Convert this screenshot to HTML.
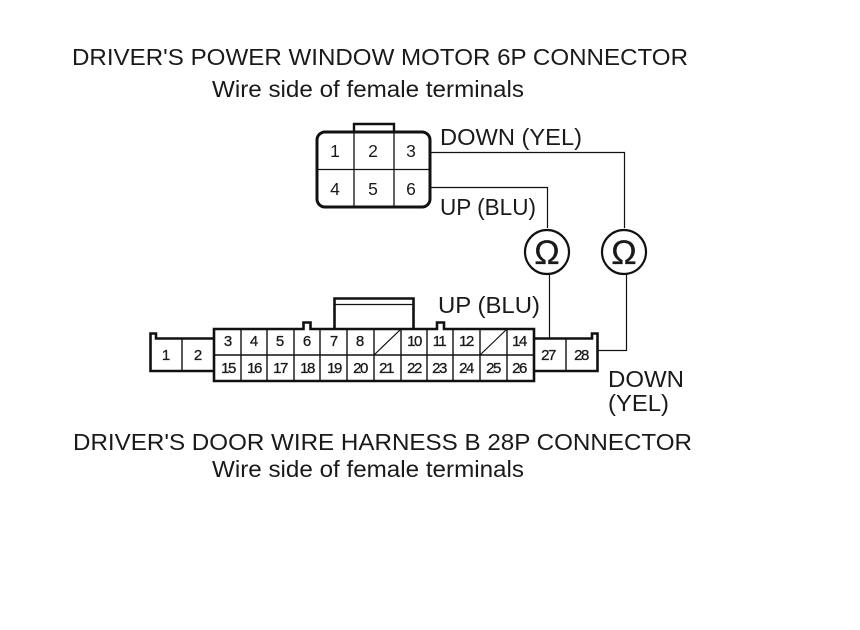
<!DOCTYPE html>
<html><head><meta charset="utf-8"><style>
html,body{margin:0;padding:0;background:#fff}
svg{display:block}
text{font-family:"Liberation Sans",sans-serif;fill:#1a1a1a}
.h{font-size:23.500px}
.n{font-size:17.500px;text-anchor:middle}
.s{font-size:15px;text-anchor:middle;stroke:#1a1a1a;stroke-width:.3px}
.d{font-size:15px;text-anchor:middle;stroke:#1a1a1a;stroke-width:.3px;letter-spacing:-1.500px}
</style></head><body>
<svg width="860" height="630" viewBox="0 0 860 630" xmlns="http://www.w3.org/2000/svg">
<rect width="860" height="630" fill="#fff"/>
<g fill="none" stroke="#111">
<!-- 6P -->
<path d="M354 132V124H394V132" stroke-width="2.400"/>
<rect x="317" y="132" width="113" height="75" rx="8" stroke-width="3"/>
<path d="M354 132V207M394 132V207M317 169.500H430" stroke-width="1.300"/>
<!-- wires -->
<path d="M431 152.500H624.500V228M431 187.500H547.500V228M549.500 274V338M626.500 274V350.500H598" stroke-width="1.200"/>
<circle cx="547" cy="252" r="22" stroke-width="2.200"/>
<circle cx="624" cy="252" r="22" stroke-width="2.200"/>
<!-- 28P body -->
<path d="M334.500 328V298.500H413.500V328" stroke-width="2.600"/>
<path d="M335 304.500H413" stroke-width="1.300"/>
<path d="M214 329H303.500V322.500H310.500V329H437V322.500H444V329H534V381H214Z" stroke-width="2.600"/>
<path d="M214 338.500H156V333.500H150.500V371H214" stroke-width="2.600"/>
<path d="M534 338.500H592V333.500H597.500V371H534" stroke-width="2.600"/>
<path d="M214 355H534M241 329V381M267 329V381M294 329V381M320 329V381M347 329V381M374 329V381M401 329V381M427 329V381M453 329V381M480 329V381M507 329V381M182 338V371M566 338V371" stroke-width="1.400"/>
<path d="M374 355L401 329M480 355L507 329" stroke-width="1.200"/>
</g>
<!-- Omega -->
<text x="547" y="264" font-size="34" text-anchor="middle" stroke="#1a1a1a" stroke-width=".3">Ω</text>
<text x="624" y="264" font-size="34" text-anchor="middle" stroke="#1a1a1a" stroke-width=".3">Ω</text>
<!-- headings -->
<text class="h" x="72" y="65" textLength="616" lengthAdjust="spacingAndGlyphs">DRIVER'S POWER WINDOW MOTOR 6P CONNECTOR</text>
<text class="h" x="212" y="97" textLength="312" lengthAdjust="spacingAndGlyphs">Wire side of female terminals</text>
<text class="h" x="73" y="450" textLength="619" lengthAdjust="spacingAndGlyphs">DRIVER'S DOOR WIRE HARNESS B 28P CONNECTOR</text>
<text class="h" x="212" y="477" textLength="312" lengthAdjust="spacingAndGlyphs">Wire side of female terminals</text>
<text class="h" x="440" y="145" textLength="142" lengthAdjust="spacingAndGlyphs">DOWN (YEL)</text>
<text class="h" x="440" y="215" textLength="96" lengthAdjust="spacingAndGlyphs">UP (BLU)</text>
<text class="h" x="438" y="313" textLength="102" lengthAdjust="spacingAndGlyphs">UP (BLU)</text>
<text class="h" x="608" y="387" textLength="76" lengthAdjust="spacingAndGlyphs">DOWN</text>
<text class="h" x="608" y="411" textLength="61" lengthAdjust="spacingAndGlyphs">(YEL)</text>
<!-- 6P numbers -->
<text class="n" x="335" y="157">1</text><text class="n" x="373" y="157">2</text><text class="n" x="411" y="157">3</text>
<text class="n" x="335" y="195">4</text><text class="n" x="373" y="195">5</text><text class="n" x="411" y="195">6</text>
<!-- 28P numbers -->
<text class="s" x="166" y="360">1</text><text class="s" x="198" y="360">2</text>
<text class="s" x="228" y="346">3</text><text class="s" x="254" y="346">4</text><text class="s" x="280" y="346">5</text><text class="s" x="307" y="346">6</text><text class="s" x="334" y="346">7</text><text class="s" x="360" y="346">8</text>
<text class="d" x="414" y="346">10</text><text class="d" x="439" y="346">11</text><text class="d" x="466" y="346">12</text><text class="d" x="519" y="346">14</text>
<text class="d" x="228" y="373">15</text><text class="d" x="254" y="373">16</text><text class="d" x="280" y="373">17</text><text class="d" x="307" y="373">18</text><text class="d" x="334" y="373">19</text><text class="d" x="360" y="373">20</text><text class="d" x="386" y="373">21</text><text class="d" x="414" y="373">22</text><text class="d" x="439" y="373">23</text><text class="d" x="466" y="373">24</text><text class="d" x="493" y="373">25</text><text class="d" x="519" y="373">26</text>
<text class="d" x="548" y="360">27</text><text class="d" x="581" y="360">28</text>
</svg>
</body></html>
